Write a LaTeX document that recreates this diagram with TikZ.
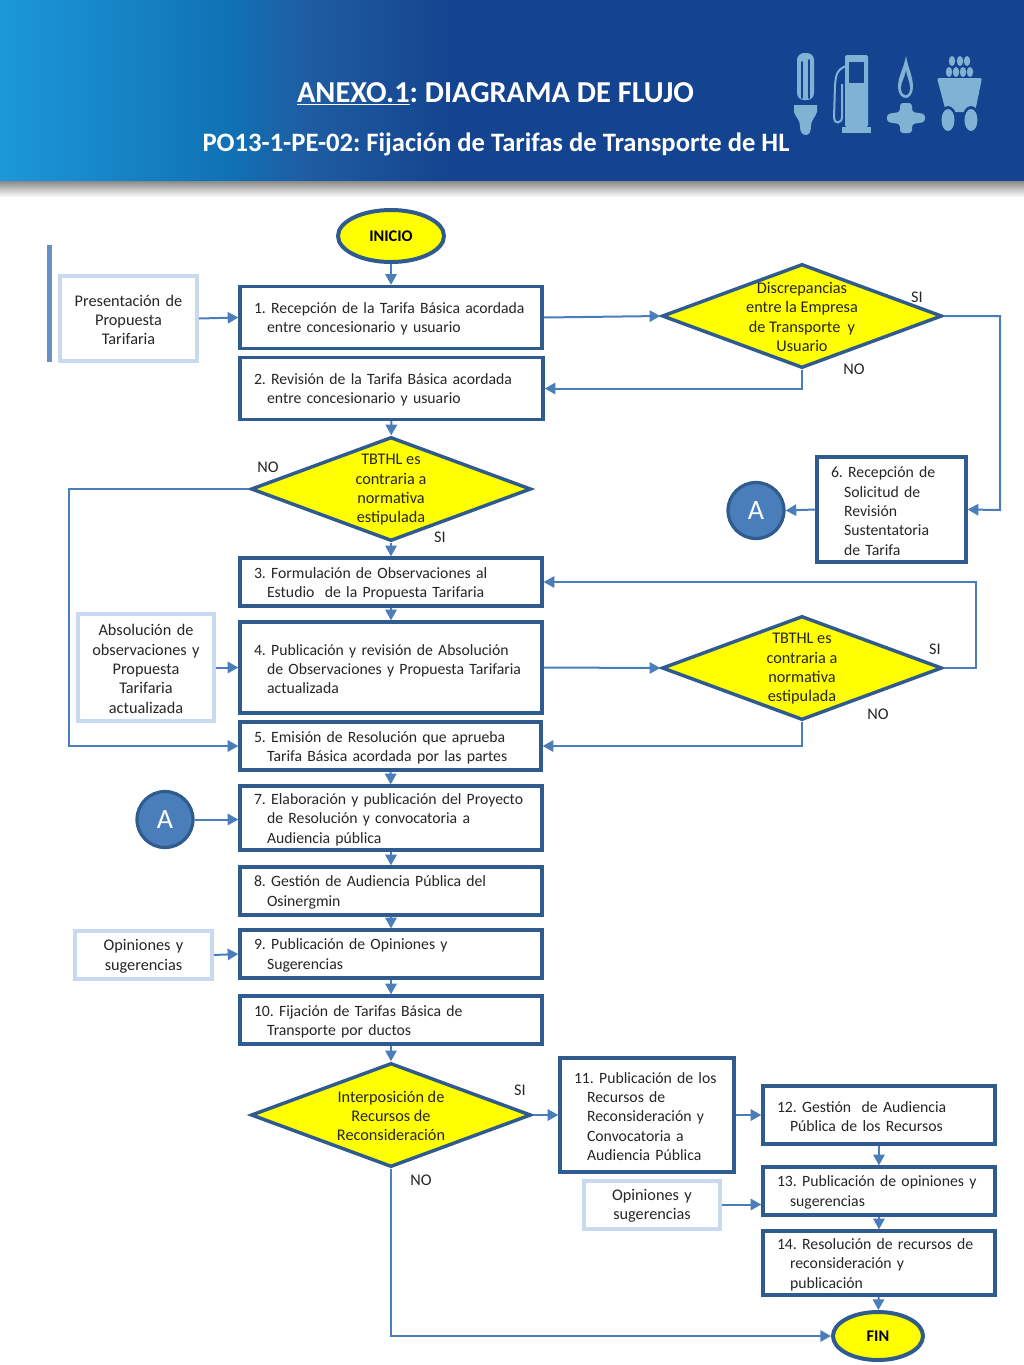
\documentclass[tikz,border=0pt]{standalone}
\usepackage{fontspec}
\setmainfont{Carlito}
\usetikzlibrary{arrows.meta,shapes.geometric,positioning}
\newcommand{\pxu}{0.75pt}
\newcommand{\hng}{\hspace*{9.8pt}}
\definecolor{boxblue}{HTML}{2F5B8E}
\definecolor{lineblue}{HTML}{4A7EBB}
\definecolor{paleblue}{HTML}{C9DAF0}
\definecolor{iconblue}{HTML}{7FB2D3}
\definecolor{bandblue}{HTML}{14448F}
\definecolor{bandsky}{HTML}{1C98D8}
\definecolor{bandmid}{HTML}{0F72B5}
\definecolor{bandsoft}{HTML}{1F5CA2}
\definecolor{flowyellow}{HTML}{FFFF00}
\definecolor{inktext}{HTML}{262626}
\pgfdeclarehorizontalshading{bandshade}{100bp}{
    color(0bp)=(bandsky);
    color(25bp)=(bandsky);
    color(36bp)=(bandmid);
    color(40bp)=(bandsoft);
    color(47bp)=(bandblue);
    color(100bp)=(bandblue)
}
\tikzset{
    txt/.style={
        font=\fontsize{12.2}{14.5}\selectfont\frenchspacing,
        text=inktext,
    },
    proc/.style 2 args={
        txt,
        font=\fontsize{11.8}{14.5}\selectfont\frenchspacing,
        rectangle,
        draw=boxblue,
        fill=white,
        line width=2.5pt,
        align=left,
        inner xsep=14*\pxu,
        inner ysep=0pt,
        text width=(#1-28)*\pxu,
        minimum height=#2*\pxu,
        execute at begin node=\rule{0pt}{10.5pt},
    },
    input/.style 2 args={
        txt,
        rectangle,
        draw=paleblue,
        fill=white,
        line width=3pt,
        align=center,
        inner sep=0pt,
        text width=#1*\pxu,
        minimum height=#2*\pxu,
        execute at begin node=\rule{0pt}{10.5pt},
    },
    decision/.style={
        diamond,
        draw=boxblue,
        fill=flowyellow,
        line width=2.6pt,
        inner sep=0pt,
        aspect=2.69,
        minimum width=280*\pxu,
        minimum height=104*\pxu,
        label={[txt,align=center,yshift=-0.6pt]center:#1},
    },
    terminal/.style 2 args={
        ellipse,
        draw=boxblue,
        fill=flowyellow,
        line width=3pt,
        inner sep=0pt,
        font=\fontsize{12.2}{14.5}\selectfont\bfseries,
        minimum width=#1*\pxu,
        minimum height=#2*\pxu,
    },
    jump/.style={
        circle,
        draw=boxblue,
        fill=lineblue,
        line width=2.4pt,
        text=white,
        inner sep=0pt,
        font=\fontsize{21}{24}\selectfont,
        minimum size=56*\pxu,
    },
    flow/.style={
        draw=lineblue,
        line width=1.5pt,
        -{Triangle[length=8pt,width=8.5pt]},
    },
    tag/.style={
        txt,
        inner sep=0pt,
    },
    title/.style={
        text=white,
        inner sep=0pt,
        font=\bfseries,
    },
}
\begin{document}
\begin{tikzpicture}[x=0.75pt,y=-0.75pt]
    \useasboundingbox (0,0) rectangle (1024,1365);
    \shade[top color=black!55,bottom color=white] (0,178) rectangle (1024,197);
    \shade[shading=bandshade] (0,0) rectangle (1024,180);
    \node [title,font=\fontsize{22.8}{26}\selectfont\bfseries\frenchspacing] (T1) at (495.5,93.5) {\underline{ANEXO.1}: DIAGRAMA DE FLUJO};
    \node [title,font=\fontsize{19.95}{23}\selectfont\bfseries\frenchspacing] (T2) at (496,144.5) {PO13-1-PE-02: Fijación de Tarifas de Transporte de HL};

    \fill[iconblue,rounded corners=7*\pxu] (797,100) -- (797,53) -- (814,53) -- (814,100) -- cycle;
    \draw[bandblue,line width=1.3pt,line cap=round] (802,98) -- (802,62) (809,98) -- (809,60);
    \fill[iconblue] (794,105) -- (817,105) -- (817,112) .. controls (815,118) and (811,120) .. (811,126) .. controls (811,132) and (809,135) .. (806,135) .. controls (802,135) and (800,132) .. (800,126) .. controls (800,120) and (796,118) .. (794,112) -- cycle;
    \fill[iconblue,rounded corners=2*\pxu] (845,127) -- (845,55) -- (868,55) -- (868,127) -- cycle;
    \fill[iconblue] (842,127) rectangle (871,133);
    \fill[bandblue] (849,62) rectangle (864,83);
    \draw[iconblue,line width=1.5pt] (846,66) .. controls (836,70) and (836,76) .. (835,85) -- (834,118) .. controls (834,124) and (842,124) .. (842,117) -- (842,84);
    \fill[iconblue] (906,56) .. controls (908,68) and (913,76) .. (913,87) .. controls (913,94) and (909,98) .. (906,98) .. controls (902,98) and (898,94) .. (898,87) .. controls (898,76) and (904,68) .. (906,56) -- cycle;
    \fill[bandblue] (906,70) .. controls (907,78) and (910,82) .. (910,88) .. controls (910,92) and (908,95) .. (906,95) .. controls (903,95) and (901,92) .. (901,88) .. controls (901,82) and (905,78) .. (906,70) -- cycle;
    \fill[iconblue,rounded corners=3*\pxu] (900,103) -- (912,103) -- (912,112) -- (925,114) -- (925,122) -- (912,124) -- (912,133) -- (900,133) -- (900,124) -- (887,122) -- (887,114) -- (900,112) -- cycle;
    \foreach \x in {952,960,967} \fill[iconblue] (\x,61) ellipse [x radius=3.2,y radius=5];
    \foreach \x in {949,956,963,970} \fill[iconblue] (\x,72) ellipse [x radius=3.2,y radius=5];
    \fill[iconblue,rounded corners=2*\pxu] (937,78) -- (982,78) -- (975,112) -- (946,112) -- cycle;
    \fill[bandblue] (948,120) ellipse [x radius=9,y radius=14];
    \fill[bandblue] (971,120) ellipse [x radius=9,y radius=14];
    \fill[iconblue] (948,120) ellipse [x radius=6.5,y radius=11];
    \fill[iconblue] (971,120) ellipse [x radius=6.5,y radius=11];

    \fill[lineblue!85] (47,245) rectangle (52,362);

    \node [terminal={106}{52}] (Ini) at (391,236) {INICIO};
    \node [input={137}{85}] (O1) at (128.5,318.5) {Presentación de\\Propuesta\\Tarifaria};
    \node [proc={302}{62}] (B1) at (391,317.5) {1. Recepción de la Tarifa Básica acordada\\\hng entre concesionario y usuario};
    \node [proc={303}{62}] (B2) at (391.5,388.5) {2. Revisión de la Tarifa Básica acordada\\\hng entre concesionario y usuario};
    \node [decision={Discrepancias\\entre la Empresa\\de Transporte\ \ y\\Usuario}] (D1) at (802,316) {};
    \node [decision={TBTHL es\\contraria a\\normativa\\estipulada}] (D2) at (391,489) {};
    \node [proc={149}{105}] (B6) at (891.5,509.5) {6. Recepción de\\\hng Solicitud de\\\hng Revisión\\\hng Sustentatoria\\\hng de Tarifa};
    \node [jump] (A1) at (756,510.5) {A};
    \node [proc={302}{48}] (B3) at (391,582) {3. Formulación de Observaciones al\\\hng Estudio\ \ de la Propuesta Tarifaria};
    \node [proc={302}{91}] (B4) at (391,667.5) {4. Publicación y revisión de Absolución\\\hng de Observaciones y Propuesta Tarifaria\\\hng actualizada};
    \node [input={136}{107}] (O2) at (146,667.5) {Absolución de\\observaciones y\\Propuesta\\Tarifaria\\actualizada};
    \node [decision={TBTHL es\\contraria a\\normativa\\estipulada}] (D3) at (802,668) {};
    \node [proc={301}{48}] (B5) at (390.5,746) {5. Emisión de Resolución que aprueba\\\hng Tarifa Básica acordada por las partes};
    \node [jump] (A2) at (165,819.5) {A};
    \node [proc={302}{64}] (B7) at (391,818) {7. Elaboración y publicación del Proyecto\\\hng de Resolución y convocatoria a\\\hng Audiencia pública};
    \node [proc={302}{48}] (B8) at (391,891) {8. Gestión de Audiencia Pública del\\\hng Osinergmin};
    \node [proc={302}{48}] (B9) at (391,954) {9. Publicación de Opiniones y\\\hng Sugerencias};
    \node [input={137}{48}] (O3) at (143.5,955) {Opiniones y\\sugerencias};
    \node [proc={302}{48}] (B10) at (391,1020) {10. Fijación de Tarifas Básica de\\\hng Transporte por ductos};
    \node [decision={Interposición de\\Recursos de\\Reconsideración}] (D4) at (391,1115) {};
    \node [proc={174}{114}] (B11) at (647,1115) {11. Publicación de los\\\hng Recursos de\\\hng Reconsideración y\\\hng Convocatoria a\\\hng Audiencia Pública};
    \node [proc={232}{58}] (B12) at (879,1115) {12. Gestión\ \ de Audiencia\\\hng Pública de los Recursos};
    \node [proc={232}{48}] (B13) at (879,1191) {13. Publicación de opiniones y\\\hng sugerencias};
    \node [input={136}{48}] (O4) at (652,1204.5) {Opiniones y\\sugerencias};
    \node [proc={232}{64}] (B14) at (879,1263) {14. Resolución de recursos de\\\hng reconsideración y\\\hng publicación};
    \node [terminal={90}{48}] (Fin) at (878,1336) {FIN};

    \coordinate (c1) at (1000,510);
    \coordinate (c2) at (69,746);
    \coordinate (c3) at (976,582);

    \draw[flow] (Ini) -- (B1);
    \draw[flow] (O1.east) -- (B1.west);
    \draw[flow] (B1.east) -- (D1.west);
    \draw[flow] (D1.south) |- (B2.east);
    \draw[flow] (D1.east) -| (c1) -- (B6.east);
    \draw[flow] (B6.west) -- (A1.east);
    \draw[flow] (B2) -- (D2);
    \draw[flow] (D2.west) -| (c2) -- (B5.west);
    \draw[flow] (D2) -- (B3);
    \draw[flow] (B3) -- (B4);
    \draw[flow] (O2.east) -- (B4.west);
    \draw[flow] (B4.east) -- (D3.west);
    \draw[flow] (D3.east) -| (c3) -- (B3.east);
    \draw[flow] (D3.south) |- (B5.east);
    \draw[flow] (B5) -- (B7);
    \draw[flow] (A2.east) -- (A2.east -| B7.west);
    \draw[flow] (B7) -- (B8);
    \draw[flow] (B8) -- (B9);
    \draw[flow] (O3.east) -- (B9.west);
    \draw[flow] (B9) -- (B10);
    \draw[flow] (B10) -- (D4);
    \draw[flow] (D4.east) -- (B11.west);
    \draw[flow] (D4.south) |- (Fin.west);
    \draw[flow] (B11.east) -- (B12.west);
    \draw[flow] (B12) -- (B13);
    \draw[flow] (O4.east) -- (O4.east -| B13.west);
    \draw[flow] (B13) -- (B14);
    \draw[flow] (B14) -- (Fin);

    \node [tag] (S1) at (917,297) {SI};
    \node [tag] (N1) at (854,369) {NO};
    \node [tag] (N2) at (268,467) {NO};
    \node [tag] (S2) at (440,537) {SI};
    \node [tag] (S3) at (935,649) {SI};
    \node [tag] (N3) at (878,714) {NO};
    \node [tag] (S4) at (520,1090) {SI};
    \node [tag] (N4) at (421,1180) {NO};
\end{tikzpicture}
\end{document}
